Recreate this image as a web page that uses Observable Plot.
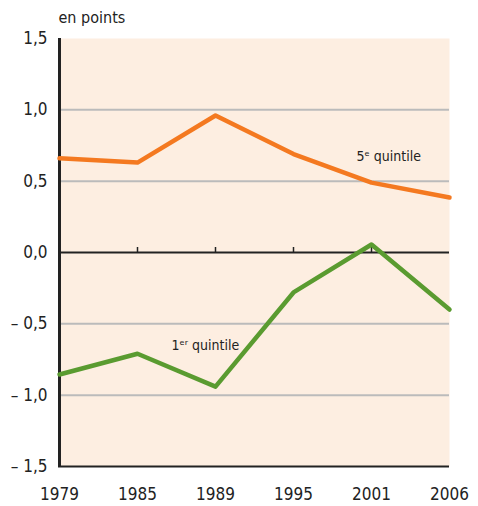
<!DOCTYPE html>
<html><head><meta charset="utf-8">
<script src="https://cdn.jsdelivr.net/npm/d3@7"></script>
<script src="https://cdn.jsdelivr.net/npm/@observablehq/plot@0.6"></script>
<style>
body{margin:0;background:#fff;}
svg{font-family:"DejaVu Sans Condensed","Liberation Sans Narrow",sans-serif;font-stretch:condensed;}
</style></head><body>
<div id="chart"></div>
<script>
const years = ["1979","1985","1989","1995","2001","2006"];
const q5 = [0.66, 0.63, 0.96, 0.69, 0.49, 0.385];
const q1 = [-0.855, -0.71, -0.94, -0.28, 0.056, -0.40];
const yTicks = [-1.5, -1.0, -0.5, 0, 0.5, 1.0, 1.5];
const gridVals = [-1.0, -0.5, 0.5, 1.0];
const label5 = [{year: "2001", v: 0.67, text: "5ᵉ quintile"}];
const label1 = [{year: "1985", v: -0.65, text: "1ᵉʳ quintile"}];

const data5 = years.map((y,i)=>({year:y, v:q5[i]}));
const data1 = years.map((y,i)=>({year:y, v:q1[i]}));
const fmt = d => (d < 0 ? "– " : "") + Math.abs(d).toFixed(1).replace(".", ",");

const chart = Plot.plot({
  width: 478, height: 506,
  marginLeft: 58, marginRight: 29, marginTop: 38, marginBottom: 40,
  style: {fontSize: "17px", color: "#222", background: "#fff"},
  x: {type: "point", domain: years, padding: 0, label: null, tickSize: 0, tickPadding: 21},
  y: {domain: [-1.5, 1.5], ticks: yTicks, tickFormat: fmt, label: null, tickSize: 0, tickPadding: 11},
  marks: [
    Plot.frame({fill: "#fdeee1", stroke: null}),
    Plot.ruleY(gridVals, {stroke: "#bbbbbb", strokeWidth: 2}),
    Plot.ruleY([0], {stroke: "#222", strokeWidth: 2}),
    Plot.ruleX(years.slice(1, -1), {x: d => d, y1: 0, y2: 0.035, stroke: "#222", strokeWidth: 1.5}),
    Plot.ruleY([-1.5], {stroke: "#222", strokeWidth: 2}),
    Plot.ruleX([years[0]], {x: d => d, stroke: "#222", strokeWidth: 3}),
    Plot.line(data5, {x: "year", y: "v", stroke: "#f47920", strokeWidth: 4.5}),
    Plot.line(data1, {x: "year", y: "v", stroke: "#5a9b30", strokeWidth: 4.5}),
    Plot.text(["en points"], {text: d => d, frameAnchor: "top-left", dy: -27, textAnchor: "start", fontSize: 16, fill: "#222"}),
    Plot.text(label5, {x: "year", y: "v", text: "text", dx: -15, textAnchor: "start", fontSize: 14, fill: "#222"}),
    Plot.text(label1, {x: "year", y: "v", text: "text", dx: 34, textAnchor: "start", fontSize: 14, fill: "#222"})
  ]
});
document.getElementById("chart").append(chart);
</script></body></html>
